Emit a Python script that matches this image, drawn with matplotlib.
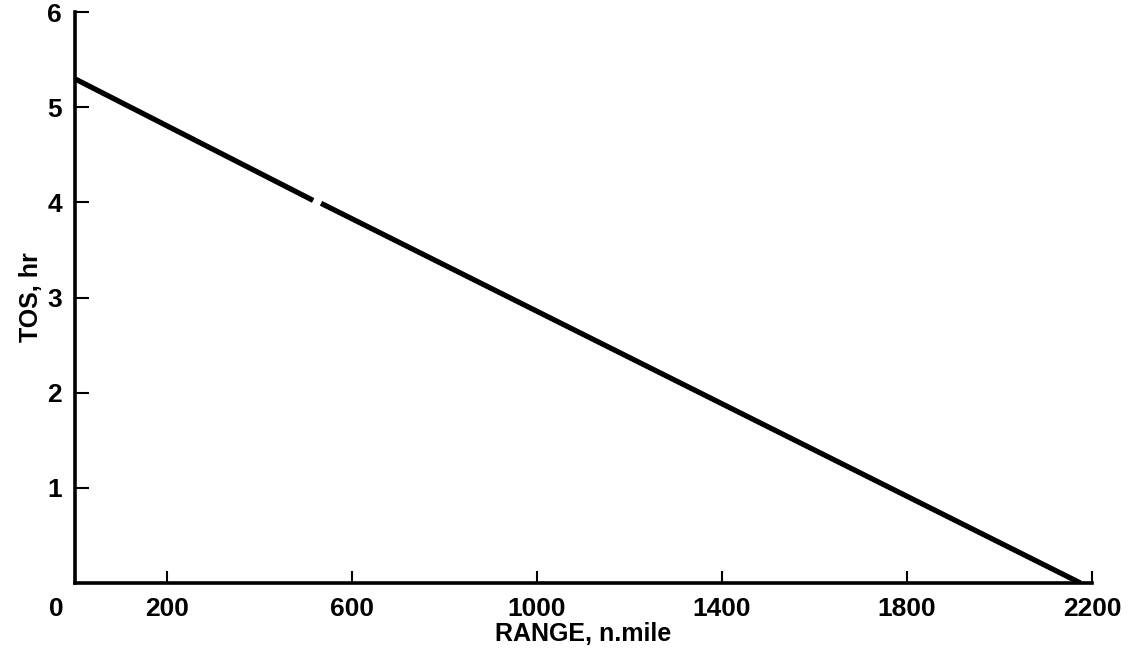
import numpy as np
import matplotlib
matplotlib.use("Agg")
import matplotlib.pyplot as plt

# Data (gap in the line near x~520)
range_nmi = [0, 516, np.nan, 533, 2175]
tos_hr = [5.30, 4.02, np.nan, 3.99, 0.0]

x_ticks = [200, 600, 1000, 1400, 1800, 2200]
x_ticklabels = ["200", "600", "1000", "1400", "1800", "2200"]
y_ticks = [1, 2, 3, 4, 5, 6]
y_ticklabels = ["1", "2", "3", "4", "5", "6"]

plt.rcParams['font.family'] = ['Liberation Sans', 'DejaVu Sans']

fig = plt.figure(figsize=(11.3, 6.58), dpi=100)
ax = fig.add_axes([74.5/1130, 75/658, (1092-74.5)/1130, (583-12)/658])

ax.plot(range_nmi, tos_hr, color='black', lw=3.8, solid_capstyle='butt')

ax.set_xlim(0, 2200)
ax.set_ylim(0, 6)
ax.set_xticks(x_ticks)
ax.set_yticks(y_ticks)
ax.set_xticklabels(x_ticklabels, fontsize=19, fontweight='bold')
ax.set_yticklabels(y_ticklabels, fontsize=19, fontweight='bold')

for s in ['top', 'right']:
    ax.spines[s].set_visible(False)
for s in ['left', 'bottom']:
    ax.spines[s].set_linewidth(2.6)

ax.xaxis.set_tick_params(which='major', direction='in', length=9, width=1.5, pad=10)
ax.yaxis.set_tick_params(which='major', direction='in', length=10, width=1.5, pad=9)

ax.text(-0.018, -0.024, "0", transform=ax.transAxes, ha='center', va='top',
        fontsize=19, fontweight='bold')

ax.set_xlabel("RANGE, n.mile", fontsize=18, fontweight='bold', labelpad=1)
ax.set_ylabel("TOS, hr", fontsize=18, fontweight='bold', labelpad=3)

fig.savefig("out.png", dpi=100)
